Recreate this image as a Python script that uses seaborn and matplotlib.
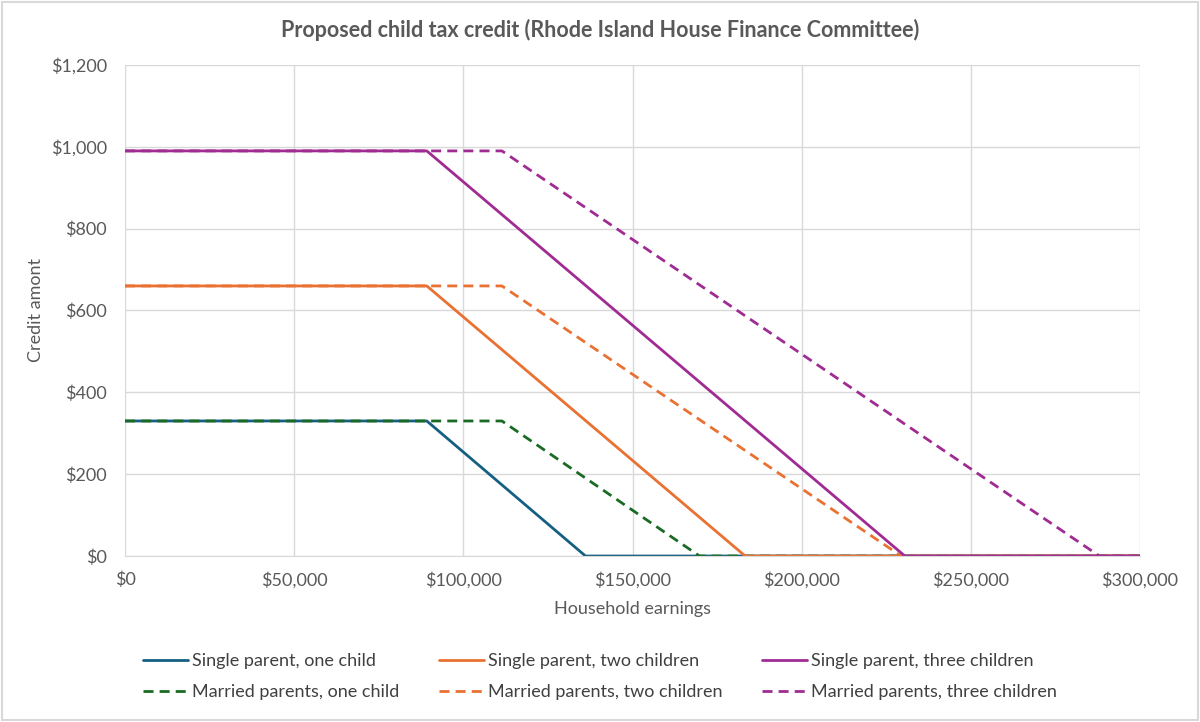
import pandas as pd
import matplotlib.pyplot as plt
import seaborn as sns
from matplotlib.ticker import FuncFormatter

# Household earnings breakpoints
single_x = [0, 89200, 136100, 300000]
single_two_x = [0, 89200, 183300, 300000]
single_three_x = [0, 89200, 230500, 300000]
married_one_x = [0, 111400, 169800, 300000]
married_two_x = [0, 111400, 229400, 300000]
married_three_x = [0, 111400, 288000, 300000]

# Credit amounts at those breakpoints
one_child = [330, 330, 0, 0]
two_children = [660, 660, 0, 0]
three_children = [990, 990, 0, 0]

series = [
    ("Single parent, one child", single_x, one_child, "#156082", "-"),
    ("Married parents, one child", married_one_x, one_child, "#196B24", "--"),
    ("Single parent, two children", single_two_x, two_children, "#E97132", "-"),
    ("Married parents, two children", married_two_x, two_children, "#E97132", "--"),
    ("Single parent, three children", single_three_x, three_children, "#A02B93", "-"),
    ("Married parents, three children", married_three_x, three_children, "#A02B93", "--"),
]

sns.set_style("white")
plt.rcParams['font.family'] = ['Lato', 'DejaVu Sans']

fig = plt.figure(figsize=(12, 7.22), dpi=100)
ax = fig.add_axes([0.1042, 0.2299, 0.8458, 0.6801])

for name, xs, ys, color, ls in series:
    df = pd.DataFrame({"earnings": xs, "credit": ys})
    sns.lineplot(data=df, x="earnings", y="credit", ax=ax, color=color,
                 linestyle=ls, linewidth=2, label=name)
    if ls == "--":
        ax.lines[-1].set_dashes((3.6, 2.2))

ax.set_xlim(0, 300000)
ax.set_ylim(0, 1200)
ax.set_xticks(range(0, 300001, 50000))
ax.set_yticks(range(0, 1201, 200))
ax.xaxis.set_major_formatter(FuncFormatter(lambda v, p: f"${v:,.0f}"))
ax.yaxis.set_major_formatter(FuncFormatter(lambda v, p: f"${v:,.0f}"))
ax.grid(True, color="#D9D9D9", linewidth=1)
ax.set_axisbelow(True)
for s in ["top", "right", "left"]:
    ax.spines[s].set_visible(False)
ax.spines["bottom"].set_color("#D9D9D9")
ax.tick_params(axis="x", colors="#595959", labelsize=13, length=0, pad=11)
ax.tick_params(axis="y", colors="#595959", labelsize=13, length=0, pad=13)

ax.set_xlabel("Household earnings", fontsize=13, color="#595959", labelpad=9)
ax.set_ylabel("Credit amont", fontsize=13, color="#595959", labelpad=5)
fig.text(0.5, 0.958, "Proposed child tax credit (Rhode Island House Finance Committee)",
         fontsize=15.5, fontweight="bold", color="#595959", ha="center", va="center")

handles, labels = ax.get_legend_handles_labels()
ax.legend_.remove()
fig.legend(handles, labels, loc="center", bbox_to_anchor=(0.5, 0.063), ncol=3,
           frameon=False, fontsize=13, handlelength=2.5, handletextpad=0.2,
           columnspacing=2.2, labelspacing=0.85, labelcolor="#404040")

fig.patches.append(plt.Rectangle((0.002, 0.003), 0.996, 0.994, transform=fig.transFigure,
                                 fill=False, edgecolor="#D9D9D9", linewidth=1.5))

fig.savefig("out.png", dpi=100)
